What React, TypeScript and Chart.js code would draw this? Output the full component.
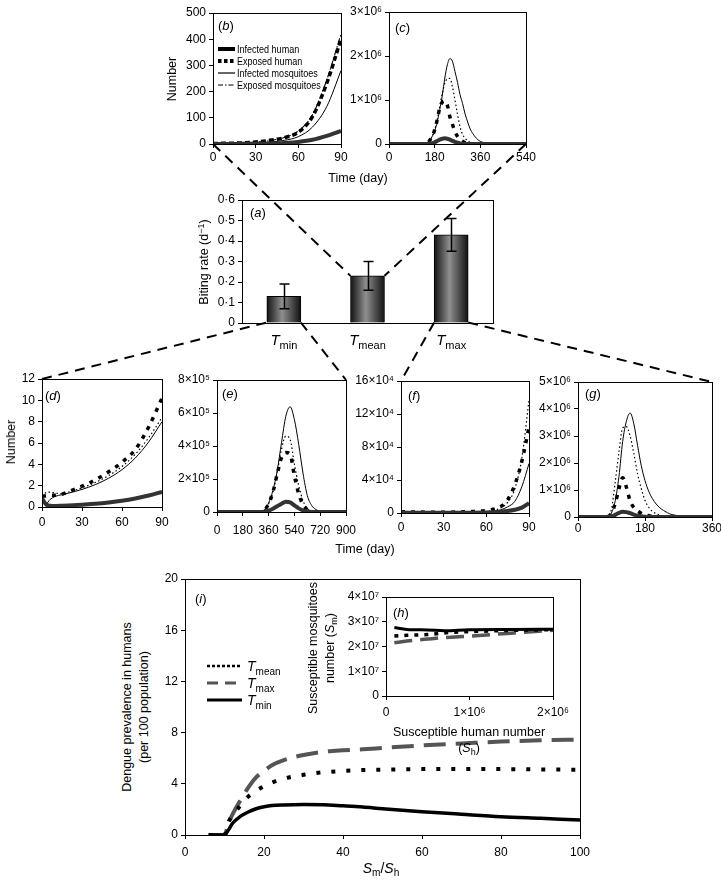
import React, { useEffect, useRef } from 'react';
import { Chart, registerables } from 'chart.js';
Chart.register(...registerables);

const FONT = '"Liberation Sans", Arial, Helvetica, sans-serif';
Chart.defaults.font.family = FONT;
Chart.defaults.color = '#000';

// ---------------- data ----------------
// (a) biting rate
const aCats = ['min', 'mean', 'max'];
const aRate = [0.13, 0.23, 0.43];
const aLow = [0.07, 0.16, 0.35];
const aHigh = [0.19, 0.30, 0.51];

// legend labels
const bLegend = ['Infected human', 'Exposed human', 'Infected mosquitoes', 'Exposed mosquitoes'];
const tempSubs = ['mean', 'max', 'min'];

// (b) Tmean, 0-90 days
const bDays = [0, 10, 20, 30, 40, 50, 60, 70, 80, 90];
const bInfH = [0, 0, 0.5, 1, 2, 4, 8, 16, 31, 50];
const bExpH = [2, 3, 4, 8, 14, 24, 45, 105, 232, 400];
const bInfM = [0, 1, 2, 4, 7, 14, 28, 65, 143, 280];
const bExpM = [1, 2, 3, 7, 13, 25, 50, 112, 245, 420];

// (c) Tmean, 0-540 days
const cDays = [0, 30, 60, 90, 120, 150, 165, 180, 190, 200, 210, 220, 230, 240, 250, 260, 270, 280, 290, 300, 310, 320, 330, 340, 350, 360, 390, 420, 450, 480, 510, 540];
const cInfM = [0, 0, 0, 0, 0, 2e4, 1.2e5, 3e5, 5e5, 7.8e5, 1.1e6, 1.5e6, 1.8e6, 1.94e6, 1.88e6, 1.65e6, 1.4e6, 1.12e6, 9.2e5, 6.8e5, 5e5, 3.4e5, 2.4e5, 1.6e5, 1e5, 6e4, 1e4, 0, 0, 0, 0, 0];
const cExpM = [0, 0, 0, 0, 0, 2e4, 1.2e5, 3.2e5, 5.5e5, 8.5e5, 1.15e6, 1.38e6, 1.48e6, 1.49e6, 1.3e6, 1e6, 6.8e5, 3.9e5, 2.2e5, 1.3e5, 7e4, 4e4, 2e4, 1e4, 0, 0, 0, 0, 0, 0, 0, 0];
const cExpH = [0, 0, 0, 0, 0, 2e4, 1.2e5, 3.2e5, 5.5e5, 8.2e5, 9.5e5, 9.8e5, 8.8e5, 6.2e5, 4.5e5, 2.8e5, 1.7e5, 1e5, 6e4, 3e4, 1e4, 0, 0, 0, 0, 0, 0, 0, 0, 0, 0, 0];
const cInfH = [0, 0, 0, 0, 0, 0, 1e4, 4e4, 7e4, 1e5, 1.2e5, 1.3e5, 1.2e5, 1e5, 7e4, 5e4, 3e4, 1.5e4, 5e3, 0, 0, 0, 0, 0, 0, 0, 0, 0, 0, 0, 0, 0];

// (d) Tmin, 0-90 days
const dDays = [0, 3, 6, 10, 15, 20, 30, 40, 50, 60, 70, 80, 90];
const dInfM = [0.8, 0.3, 0.7, 1.0, 1.15, 1.3, 1.65, 2.1, 2.7, 3.5, 4.6, 6.1, 8.0];
const dExpM = [1.0, 1.35, 1.4, 1.3, 1.25, 1.4, 1.8, 2.3, 2.95, 3.8, 4.95, 6.5, 8.4];
const dExpH = [1.0, 1.05, 1.1, 1.1, 1.2, 1.45, 1.95, 2.55, 3.3, 4.2, 5.4, 7.5, 10.2];
const dInfH = [0.8, 0.25, 0.12, 0.1, 0.12, 0.15, 0.22, 0.3, 0.42, 0.58, 0.8, 1.08, 1.42];

// (e) Tmin, 0-900 days
const eDays = [0, 90, 180, 270, 300, 330, 360, 390, 420, 450, 480, 510, 540, 570, 600, 630, 660, 690, 720, 810, 900];
const eInfM = [0, 0, 0, 0, 0, 1e4, 5.5e4, 1.3e5, 2.5e5, 4.2e5, 5.8e5, 6.38e5, 5.6e5, 4.1e5, 2.35e5, 1e5, 4e4, 1.5e4, 5e3, 0, 0];
const eExpM = [0, 0, 0, 0, 0, 1e4, 5e4, 1.2e5, 2.4e5, 3.8e5, 4.6e5, 4.4e5, 2.9e5, 1.6e5, 7e4, 2e4, 5e3, 0, 0, 0, 0];
const eExpH = [0, 0, 0, 0, 0, 1e4, 5e4, 1.2e5, 2.3e5, 3.3e5, 3.6e5, 3.5e5, 2.2e5, 1.1e5, 4.5e4, 1.5e4, 0, 0, 0, 0, 0];
const eInfH = [0, 0, 0, 0, 0, 2e3, 8e3, 2e4, 3.5e4, 5e4, 6.2e4, 5.8e4, 4e4, 2.2e4, 1e4, 4e3, 0, 0, 0, 0, 0];

// (f) Tmax, 0-90 days
const fDays = [0, 10, 20, 30, 40, 50, 60, 65, 70, 75, 80, 85, 90];
const fExpM = [500, 400, 400, 400, 500, 800, 1800, 3200, 6000, 13000, 29000, 67000, 137000];
const fExpH = [1500, 1200, 1000, 1000, 1200, 1800, 3000, 4500, 7500, 16000, 34000, 63000, 104000];
const fInfM = [300, 300, 300, 300, 400, 600, 1200, 2000, 3800, 7500, 14000, 32000, 60000];
const fInfH = [500, 400, 300, 300, 300, 400, 700, 1000, 1600, 2500, 4000, 6500, 12000];

// (g) Tmax, 0-360 days
const gDays = [0, 60, 80, 90, 100, 110, 120, 130, 140, 150, 160, 170, 180, 190, 200, 210, 220, 230, 240, 250, 260, 270, 280, 300, 330, 360];
const gInfM = [0, 0, 2e4, 1.5e5, 6e5, 1.5e6, 2.8e6, 3.55e6, 3.85e6, 3.45e6, 2.65e6, 1.9e6, 1.35e6, 9.5e5, 6.8e5, 4.8e5, 3.4e5, 2.4e5, 1.6e5, 1e5, 7e4, 4e4, 3e4, 1e4, 0, 0];
const gExpM = [0, 0, 3e4, 3e5, 1.3e6, 2.4e6, 3.3e6, 3.35e6, 3e6, 2.35e6, 1.6e6, 1.05e6, 6.2e5, 3.6e5, 2.1e5, 1.2e5, 7e4, 4e4, 2e4, 1e4, 0, 0, 0, 0, 0, 0];
const gExpH = [0, 0, 2e4, 1.5e5, 5e5, 1.05e6, 1.45e6, 1.1e6, 6e5, 3.5e5, 2.2e5, 1.4e5, 8e4, 5e4, 3e4, 1e4, 0, 0, 0, 0, 0, 0, 0, 0, 0, 0];
const gInfH = [0, 0, 0, 2e4, 8e4, 1.5e5, 1.9e5, 1.8e5, 1.4e5, 9e4, 5e4, 3e4, 1e4, 0, 0, 0, 0, 0, 0, 0, 0, 0, 0, 0, 0, 0];

// (i) prevalence vs Sm/Sh
const iX = [6, 10, 11, 12, 14, 16, 18, 20, 22, 25, 30, 35, 40, 45, 50, 60, 70, 80, 90, 100];
const iMin = [0, 0, 0.4, 0.9, 1.45, 1.8, 2.05, 2.2, 2.3, 2.35, 2.38, 2.37, 2.28, 2.18, 2.05, 1.82, 1.62, 1.43, 1.3, 1.17];
const iMean = [0, 0, 1.0, 1.5, 2.3, 3.0, 3.45, 3.8, 4.1, 4.4, 4.7, 4.9, 5.0, 5.08, 5.1, 5.15, 5.15, 5.15, 5.12, 5.1];
const iMax = [0, 0, 0.9, 1.6, 2.7, 3.7, 4.5, 5.0, 5.45, 5.85, 6.25, 6.5, 6.62, 6.7, 6.8, 7.0, 7.15, 7.3, 7.4, 7.45];

// (h) susceptible mosquitoes vs susceptible humans
const hX = [1e5, 2.5e5, 5e5, 7e5, 1e6, 1.5e6, 2e6];
const hMin = [2.77e7, 2.69e7, 2.67e7, 2.64e7, 2.68e7, 2.69e7, 2.7e7];
const hMean = [2.42e7, 2.45e7, 2.48e7, 2.55e7, 2.6e7, 2.65e7, 2.68e7];
const hMax = [2.15e7, 2.22e7, 2.3e7, 2.36e7, 2.42e7, 2.54e7, 2.66e7];

// ---------------- layout ----------------
type Box = { L: number; T: number; R: number; B: number; yW: number; xH: number; padT: number; padR: number; tp: number };
const BOX: Record<string, Box> = {
  b: { L: 213, T: 13, R: 341, B: 144, yW: 40, xH: 24, padT: 8, padR: 14, tp: 2 },
  c: { L: 389, T: 12, R: 526, B: 144, yW: 44, xH: 24, padT: 8, padR: 14, tp: 2 },
  a: { L: 242, T: 200, R: 493, B: 323, yW: 36, xH: 30, padT: 8, padR: 8, tp: 3 },
  d: { L: 42, T: 379, R: 162, B: 507, yW: 24, xH: 26, padT: 8, padR: 10, tp: 4 },
  e: { L: 217, T: 380, R: 346, B: 512, yW: 44, xH: 28, padT: 8, padR: 14, tp: 7 },
  f: { L: 401, T: 381, R: 529, B: 513, yW: 52, xH: 26, padT: 8, padR: 10, tp: 3 },
  g: { L: 578, T: 382, R: 712, B: 517, yW: 44, xH: 24, padT: 8, padR: 9, tp: 0 },
  i: { L: 185, T: 579, R: 580, B: 835, yW: 28, xH: 28, padT: 8, padR: 12, tp: 6 },
  h: { L: 386, T: 597, R: 553, B: 696, yW: 44, xH: 26, padT: 8, padR: 20, tp: 5 },
};
const canvasRect = (b: Box) => ({
  left: b.L - b.yW,
  top: b.T - b.padT,
  width: b.R - b.L + b.yW + b.padR,
  height: b.B - b.T + b.padT + b.xH,
});

// ---------------- helpers ----------------
type Seg = { t: string; it?: boolean; sub?: boolean; sup?: boolean };
function drawRich(ctx: CanvasRenderingContext2D, x: number, y: number, segs: Seg[], size: number, align: 'left' | 'center' | 'right', sx = 1) {
  const fontFor = (s: Seg) => `${s.it ? 'italic ' : ''}${s.sub || s.sup ? Math.round(size * 0.72) : size}px ${FONT}`;
  let w = 0;
  for (const s of segs) { ctx.font = fontFor(s); w += ctx.measureText(s.t).width; }
  w *= sx;
  const x0 = align === 'left' ? x : align === 'center' ? x - w / 2 : x - w;
  ctx.save();
  ctx.translate(x0, y);
  ctx.scale(sx, 1);
  ctx.textAlign = 'left';
  ctx.textBaseline = 'alphabetic';
  let cx = 0;
  for (const s of segs) {
    ctx.font = fontFor(s);
    const dy = s.sub ? size * 0.28 : s.sup ? -size * 0.4 : 0;
    ctx.fillText(s.t, cx, dy);
    cx += ctx.measureText(s.t).width;
  }
  ctx.restore();
}

const SUP: Record<string, string> = { '0': '⁰', '1': '¹', '2': '²', '3': '³', '4': '⁴', '5': '⁵', '6': '⁶', '7': '⁷', '8': '⁸', '9': '⁹' };
const sci = (exp: number) => (v: any) => {
  const n = Number(v);
  if (n === 0) return '0';
  return `${Math.round(n / Math.pow(10, exp))}×10${String(exp).split('').map((c) => SUP[c]).join('')}`;
};
const plain = (v: any) => String(Math.round(Number(v) * 1000) / 1000);

const tickFont = { family: FONT, size: 12 };
function axis(b: Box, which: 'x' | 'y', min: number, max: number, step: number, cb: (v: any) => string = plain) {
  return {
    type: 'linear',
    min, max,
    ticks: { stepSize: step, font: tickFont, color: '#000', padding: which === 'x' ? b.tp : 3, maxRotation: 0, autoSkip: false, callback: cb },
    grid: { drawOnChartArea: false, drawTicks: true, tickLength: 4, color: '#000', tickColor: '#000', lineWidth: 1 },
    border: { display: false },
    afterFit: (s: any) => {
      if (which === 'x') s.height = b.xH; else s.width = b.yW;
      s.paddingLeft = 0; s.paddingRight = 0; s.paddingTop = 0; s.paddingBottom = 0;
    },
  };
}

const al = (v: number) => Math.round(v - 0.5) + 0.5;
const framePlugin = {
  id: 'frame',
  afterDraw(chart: any) {
    const { ctx, chartArea: a } = chart;
    ctx.save();
    ctx.strokeStyle = '#000';
    ctx.lineWidth = 1;
    const l = al(a.left), t = al(a.top), r = al(a.right), bt = al(a.bottom);
    ctx.strokeRect(l, t, r - l, bt - t);
    ctx.restore();
  },
};

const panelLabel = (letter: string, dx: number, dy: number) => ({
  id: 'panelLabel',
  afterDraw(chart: any) {
    const { ctx, chartArea: a } = chart;
    ctx.save();
    ctx.fillStyle = '#000';
    drawRich(ctx, a.left + dx, a.top + dy, [{ t: '(' }, { t: letter, it: true }, { t: ')' }], 13, 'left');
    ctx.restore();
  },
});

type LegItem = { segs: Seg[]; color: string; width: number; dash: number[] };
const insetLegend = (items: LegItem[], x0: number, y0: number, rowH: number, sampleW: number, gap: number, size: number, sx = 1) => ({
  id: 'insetLegend',
  afterDraw(chart: any) {
    const { ctx, chartArea: a } = chart;
    ctx.save();
    items.forEach((it, i) => {
      const y = a.top + y0 + i * rowH;
      ctx.beginPath();
      ctx.setLineDash(it.dash);
      ctx.lineWidth = it.width;
      ctx.strokeStyle = it.color;
      ctx.moveTo(a.left + x0, y);
      ctx.lineTo(a.left + x0 + sampleW, y);
      ctx.stroke();
      ctx.setLineDash([]);
      ctx.fillStyle = '#000';
      drawRich(ctx, a.left + x0 + sampleW + gap, y + size * 0.36, it.segs, size, 'left', sx);
    });
    ctx.restore();
  },
});

const ds = (xs: number[], ys: number[], style: any) => ({
  data: xs.map((x, i) => ({ x, y: ys[i] })),
  pointRadius: 0,
  fill: false,
  cubicInterpolationMode: 'monotone',
  ...style,
});

const S_INF_H = { borderColor: '#333', borderWidth: 4 };
const S_EXP_H = { borderColor: '#000', borderWidth: 3.5, borderDash: [4, 6] };
const S_EXP_H_B = { borderColor: '#000', borderWidth: 3.5, borderDash: [5, 3] };
const S_INF_M = { borderColor: '#000', borderWidth: 1 };
const S_EXP_M = { borderColor: '#000', borderWidth: 1.2, borderDash: [1.5, 2.5] };
const S_EXP_M_B = { borderColor: '#000', borderWidth: 1.1, borderDash: [6, 2, 1.5, 2] };
const S_TMIN = { borderColor: '#000', borderWidth: 3.5 };
const S_TMEAN = { borderColor: '#000', borderWidth: 4, borderDash: [4, 11] };
const S_TMAX = { borderColor: '#555', borderWidth: 4, borderDash: [22, 10] };

function lineConfig(b: Box, datasets: any[], x: any[], y: any[], plugins: any[]) {
  return {
    type: 'line',
    data: { datasets },
    options: {
      responsive: false,
      animation: false,
      events: [],
      layout: { padding: { left: 0, top: b.padT, right: b.padR, bottom: 0 } },
      plugins: { legend: { display: false }, tooltip: { enabled: false } },
      scales: {
        x: axis(b, 'x', x[0], x[1], x[2], x[3] ?? plain),
        y: axis(b, 'y', y[0], y[1], y[2], y[3] ?? plain),
      },
    },
    plugins: [framePlugin, ...plugins],
  };
}

function fourSeries(days: number[], infH: number[], expH: number[], infM: number[], expM: number[], bStyle = false) {
  return [
    ds(days, infH, S_INF_H),
    ds(days, expH, bStyle ? S_EXP_H_B : S_EXP_H),
    ds(days, infM, S_INF_M),
    ds(days, expM, bStyle ? S_EXP_M_B : S_EXP_M),
  ];
}

const BAR_W = 34;
const errorBars = (low: number[], high: number[]) => ({
  id: 'errorBars',
  afterDatasetsDraw(chart: any) {
    const { ctx } = chart;
    const xs = chart.scales.x, ys = chart.scales.y;
    ctx.save();
    ctx.strokeStyle = '#000';
    ctx.lineWidth = 1.5;
    low.forEach((lo, i) => {
      const x = Math.round(xs.getPixelForValue(i)) + 0.5;
      const y1 = ys.getPixelForValue(lo), y2 = ys.getPixelForValue(high[i]);
      ctx.beginPath();
      ctx.moveTo(x, y1); ctx.lineTo(x, y2);
      ctx.moveTo(x - 5, y1); ctx.lineTo(x + 5, y1);
      ctx.moveTo(x - 5, y2); ctx.lineTo(x + 5, y2);
      ctx.stroke();
    });
    ctx.restore();
  },
});
const richXLabels = (subs: string[]) => ({
  id: 'richX',
  afterDraw(chart: any) {
    const xs = chart.scales.x;
    const { ctx, chartArea: a } = chart;
    ctx.save();
    ctx.fillStyle = '#000';
    subs.forEach((s, i) => {
      drawRich(ctx, xs.getPixelForValue(i), a.bottom + 22, [{ t: 'T', it: true }, { t: s, sub: true }], 15, 'center');
    });
    ctx.restore();
  },
});
// cylinder-like shading of the bars, using the bar elements' own geometry
const barShade = {
  id: 'barShade',
  beforeDatasetsDraw(chart: any) {
    const meta = chart.getDatasetMeta(0);
    meta.data.forEach((el: any) => {
      if (!isFinite(el.x) || !isFinite(el.width)) return;
      const g = chart.ctx.createLinearGradient(el.x - el.width / 2, 0, el.x + el.width / 2, 0);
      g.addColorStop(0, '#111');
      g.addColorStop(0.45, '#8f8f8f');
      g.addColorStop(1, '#111');
      el.options = { ...el.options, backgroundColor: g };
    });
  },
};

// ---------------- component ----------------
const Sub = ({ children }: any) => (
  <span style={{ fontSize: '72%', position: 'relative', top: '0.3em' }}>{children}</span>
);
const Title = ({ x, y, rot, size = 12.5, lh = 16, children }: any) => (
  <div
    style={{
      position: 'absolute', left: x, top: y,
      transform: `translate(-50%,-50%)${rot ? ' rotate(-90deg)' : ''}`,
      whiteSpace: 'nowrap', fontSize: size, lineHeight: `${lh}px`, textAlign: 'center', color: '#000',
    }}
  >
    {children}
  </div>
);

export default function App() {
  const refs = useRef<Record<string, HTMLCanvasElement | null>>({});
  const overlay = useRef<HTMLCanvasElement | null>(null);

  useEffect(() => {
    const charts: Record<string, any> = {};
    const mk = (k: string, cfg: any) => {
      try {
        charts[k] = new Chart(refs.current[k] as HTMLCanvasElement, cfg as any);
      } catch (e) {
        console.error(e);
      }
    };

    const legB: LegItem[] = [
      { segs: [{ t: bLegend[0] }], color: '#000', width: 4, dash: [] },
      { segs: [{ t: bLegend[1] }], color: '#000', width: 4, dash: [3.5, 2.5] },
      { segs: [{ t: bLegend[2] }], color: '#000', width: 1.2, dash: [] },
      { segs: [{ t: bLegend[3] }], color: '#000', width: 1.1, dash: [5, 2, 1.5, 2] },
    ];
    mk('b', lineConfig(BOX.b, fourSeries(bDays, bInfH, bExpH, bInfM, bExpM, true), [0, 90, 30], [0, 500, 100],
      [panelLabel('b', 5, 17), insetLegend(legB, 5, 36, 12, 17, 2, 11, 0.82)]));
    mk('c', lineConfig(BOX.c, fourSeries(cDays, cInfH, cExpH, cInfM, cExpM), [0, 540, 180], [0, 3e6, 1e6, sci(6)],
      [panelLabel('c', 6, 20)]));
    mk('d', lineConfig(BOX.d, fourSeries(dDays, dInfH, dExpH, dInfM, dExpM), [0, 90, 30], [0, 12, 2],
      [panelLabel('d', 3, 21)]));
    mk('e', lineConfig(BOX.e, fourSeries(eDays, eInfH, eExpH, eInfM, eExpM), [0, 900, 180], [0, 8e5, 2e5, sci(5)],
      [panelLabel('e', 5, 18)]));
    mk('f', lineConfig(BOX.f, fourSeries(fDays, fInfH, fExpH, fInfM, fExpM), [0, 90, 30], [0, 16e4, 4e4, sci(4)],
      [panelLabel('f', 7, 19)]));
    mk('g', lineConfig(BOX.g, fourSeries(gDays, gInfH, gExpH, gInfM, gExpM), [0, 360, 180], [0, 5e6, 1e6, sci(6)],
      [panelLabel('g', 7, 16)]));

    const legI: LegItem[] = [
      { segs: [{ t: 'T', it: true }, { t: tempSubs[0], sub: true }], color: '#000', width: 2.5, dash: [3, 2] },
      { segs: [{ t: 'T', it: true }, { t: tempSubs[1], sub: true }], color: '#555', width: 3, dash: [11, 7] },
      { segs: [{ t: 'T', it: true }, { t: tempSubs[2], sub: true }], color: '#000', width: 3, dash: [] },
    ];
    mk('i', lineConfig(BOX.i, [ds(iX, iMin, S_TMIN), ds(iX, iMean, S_TMEAN), ds(iX, iMax, S_TMAX)], [0, 100, 20], [0, 20, 4],
      [panelLabel('i', 10, 24), insetLegend(legI, 22, 87, 17, 35, 5, 14)]));
    mk('h', lineConfig(BOX.h, [
      ds(hX, hMin, { borderColor: '#000', borderWidth: 3 }),
      ds(hX, hMean, { borderColor: '#000', borderWidth: 3.5, borderDash: [4, 6] }),
      ds(hX, hMax, { borderColor: '#555', borderWidth: 3.5, borderDash: [18, 8] }),
    ], [0, 2e6, 1e6, sci(6)], [0, 4e7, 1e7, sci(7)], [panelLabel('h', 7, 20)]));

    const bA = BOX.a;
    mk('a', {
      type: 'bar',
      data: {
        labels: aCats,
        datasets: [{
          data: aRate,
          barThickness: BAR_W,
          borderColor: '#000',
          borderWidth: 1,
          backgroundColor: '#444',
        }],
      },
      options: {
        responsive: false,
        animation: false,
        events: [],
        layout: { padding: { left: 0, top: bA.padT, right: bA.padR, bottom: 0 } },
        plugins: { legend: { display: false }, tooltip: { enabled: false } },
        scales: {
          x: {
            type: 'category', offset: true,
            ticks: { display: false },
            grid: { display: false },
            border: { display: false },
            afterFit: (s: any) => { s.height = bA.xH; s.paddingLeft = 0; s.paddingRight = 0; },
          },
          y: axis(bA, 'y', 0, 0.6, 0.1, (v: any) => (Number(v) === 0 ? '0' : Number(v).toFixed(1).replace('.', '·'))),
        },
      },
      plugins: [barShade, framePlugin, errorBars(aLow, aHigh), richXLabels(aCats), panelLabel('a', 8, 17)],
    });

    // dashed connector lines between panels
    const oc = overlay.current;
    if (oc && charts.a && charts.b && charts.c && charts.d && charts.e && charts.f && charts.g) {
      const ctx = oc.getContext('2d')!;
      ctx.clearRect(0, 0, oc.width, oc.height);
      const pg = (k: string, x: number, y: number) => {
        const r = canvasRect(BOX[k]);
        return [r.left + x, r.top + y];
      };
      const ca = (k: string) => charts[k].chartArea;
      const bars = charts.a.getDatasetMeta(0).data as any[];
      const bl = (i: number) => bars[i].x - bars[i].width / 2;
      const br = (i: number) => bars[i].x + bars[i].width / 2;
      const segs = [
        [pg('b', ca('b').left, ca('b').bottom), pg('a', bl(1), bars[1].y)],
        [pg('c', ca('c').right, ca('c').bottom), pg('a', br(1), bars[1].y)],
        [pg('d', ca('d').left, ca('d').top), pg('a', bl(0), bars[0].base)],
        [pg('a', br(0), bars[0].base), pg('e', ca('e').right, ca('e').top)],
        [pg('a', bl(2), bars[2].base), pg('f', ca('f').left, ca('f').top)],
        [pg('a', br(2), bars[2].base), pg('g', ca('g').right, ca('g').top)],
      ];
      ctx.save();
      ctx.strokeStyle = '#000';
      ctx.lineWidth = 2;
      ctx.setLineDash([10, 7]);
      segs.forEach(([p, q]) => {
        ctx.beginPath();
        ctx.moveTo(p[0], p[1]);
        ctx.lineTo(q[0], q[1]);
        ctx.stroke();
      });
      ctx.restore();
    }

    return () => {
      Object.values(charts).forEach((c) => c.destroy());
    };
  }, []);

  return (
    <div style={{ position: 'absolute', left: 0, top: 0, width: 721, height: 883, background: '#fff', fontFamily: FONT, color: '#000', overflow: 'hidden' }}>
      {Object.keys(BOX).map((k) => {
        const r = canvasRect(BOX[k]);
        return (
          <canvas
            key={k}
            ref={(el) => { refs.current[k] = el; }}
            width={r.width}
            height={r.height}
            style={{ position: 'absolute', left: r.left, top: r.top, width: r.width, height: r.height }}
          />
        );
      })}
      <Title x={172} y={79} rot>Number</Title>
      <Title x={358} y={178} size={12.5}>Time (day)</Title>
      <Title x={204} y={262} rot>Biting rate (d<span style={{ fontSize: '72%', position: 'relative', top: '-0.45em' }}>−1</span>)</Title>
      <Title x={11} y={442} rot>Number</Title>
      <Title x={365} y={549} size={12.5}>Time (day)</Title>
      <Title x={136} y={707} rot lh={17}>Dengue prevalence in humans<br />(per 100 population)</Title>
      <Title x={381} y={869} size={14}><i>S</i><Sub>m</Sub>/<i>S</i><Sub>h</Sub></Title>
      <Title x={322} y={648} rot lh={17}>Susceptible mosquitoes<br />number (<i>S</i><Sub>m</Sub>)</Title>
      <Title x={469} y={740} lh={16}>Susceptible human number<br />(<i>S</i><Sub>h</Sub>)</Title>
      <canvas ref={overlay} width={721} height={883} style={{ position: 'absolute', left: 0, top: 0, width: 721, height: 883, pointerEvents: 'none' }} />
    </div>
  );
}
